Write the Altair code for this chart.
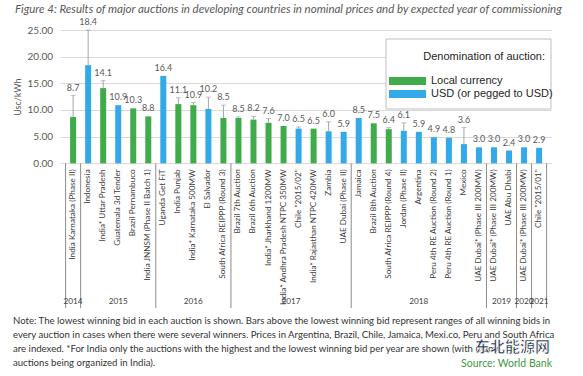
import altair as alt
import pandas as pd
import numpy as np

# ---------------- data ----------------
names = [
    "India Karnataka (Phase II)", "Indonesia", "India* Uttar Pradesh", "Guatemala 3d Tender",
    "Brazil Pernambuco", "India JNNSM (Phase II Batch 1)", "Uganda Get FiT", "India Punjab",
    "India* Karnataka 500MW", "El Salvador", "South Africa REIPPP (Round 3)", "Brazil 7th Auction",
    "Brazil 6th Auction", "India* Jharkhand 1200MW", "India* Andhra Pradesh NTPC 350MW",
    "Chile \"2015/02\"", "India* Rajasthan NTPC 420MW", "Zambia", "UAE Dubai (Phase II)",
    "Jamaica", "Brazil 8th Auction", "South Africa REIPPP (Round 4)", "Jordan (Phase II)",
    "Argentina", "Peru 4th RE Auction (Round 2)", "Peru 4th RE Auction (Round 1)", "Mexico",
    "UAE Dubai* (Phase III 200MW)", "UAE Dubai* (Phase III 200MW)", "UAE Abu Dhabi",
    "UAE Dubai* (Phase III 200MW)", "Chile \"2015/01\"",
]
values = [8.7, 18.4, 14.1, 10.9, 10.3, 8.8, 16.4, 11.1, 10.9, 10.2, 8.5, 8.5, 8.2, 7.6, 7.0,
          6.5, 6.5, 6.0, 5.9, 8.5, 7.5, 6.4, 6.1, 5.9, 4.9, 4.8, 3.6, 3.0, 3.0, 2.4, 3.0, 2.9]
range_tops = [12.7, 25.0, 15.5, None, None, None, None, 12.3, 11.4, 12.4, 10.9, 8.7, 8.8, 8.4,
              None, 6.8, None, 7.8, None, None, None, 6.7, 7.6, None, None, None, 6.7,
              None, None, None, None, None]
currency = ["Local", "USD", "Local", "USD", "Local", "Local", "USD", "Local", "Local", "USD",
            "Local", "Local", "Local", "Local", "Local", "USD", "Local", "USD", "USD", "USD",
            "Local", "Local", "USD", "USD", "USD", "USD", "USD", "USD", "USD", "USD", "USD", "USD"]
years = ["2014", "2015", "2016", "2017", "2018", "2019", "2020", "2021"]
year_counts = [1, 5, 5, 8, 9, 2, 1, 1]
y_ticks = [0, 5, 10, 15, 20, 25]

cur_domain = ["Local", "USD"]
cur_labels = ["Local currency", "USD (or pegged to USD)"]
cur_colors = ["#3fab4a", "#33a9e8"]

title_text = ("Figure 4: Results of major auctions in developing countries in nominal prices "
              "and by expected year of commissioning")
note_lines = [
    "Note: The lowest winning bid in each auction is shown. Bars above the lowest winning bid represent ranges of all winning bids in",
    "every auction in cases when there were several winners. Prices in Argentina, Brazil, Chile, Jamaica, Mexi.co, Peru and South Africa",
    "are indexed. *For India only the auctions with the highest and the lowest winning bid per year are shown (with many",
    "auctions being organized in India).",
]

# ---------------- tables ----------------
n = len(names)
df = pd.DataFrame({"name": names, "value": values, "top": range_tops, "cur": currency})
df["top"] = df["top"].astype(float)
df["xc"] = np.arange(n) + 0.5
df["lab_y"] = np.fmax(df["value"], df["top"].fillna(0))

starts = np.concatenate([[0], np.cumsum(year_counts)[:-1]])
ydf = pd.DataFrame({"year": years, "xc": starts + np.array(year_counts) / 2})
bdf = pd.DataFrame({"xc": np.concatenate([[0], np.cumsum(year_counts)]).astype(float)})
errdf = df.dropna(subset=["top"])

# ---------------- layout ----------------
OX, OY = 60.6, 30.0
W, H = 491, 133.3
FONT = "Lato"

xs = alt.X("xc:Q", scale=alt.Scale(domain=[0, n], nice=False, zero=False), axis=None)
yscale = alt.Scale(domain=[0, 25], nice=False)
yaxis = alt.Axis(values=y_ticks, format=".2f", title="Usc/kWh", labelOverlap=False,
                 grid=True, gridColor="#d9d9d9", domain=False, ticks=False,
                 labelPadding=8, labelFontSize=10, labelColor="#595959", labelFont=FONT,
                 titleFontSize=9, titleFontWeight="normal", titleColor="#595959",
                 titleFont=FONT, titlePadding=5)


def Y(field):
    return alt.Y(field, scale=yscale, axis=yaxis)


color = alt.Color("cur:N", scale=alt.Scale(domain=cur_domain, range=cur_colors), legend=None)

base = alt.Chart(df)

bars = base.mark_bar(size=6).encode(x=xs, y=Y("value:Q"), color=color)

err = alt.Chart(errdf).mark_rule(color="#a6a6a6", strokeWidth=1).encode(
    x=xs, y=Y("value:Q"), y2="top:Q")
caps = alt.Chart(errdf).mark_tick(orient="horizontal", size=5, thickness=1, color="#a6a6a6").encode(
    x=xs, y=Y("top:Q"))

vlabels = base.mark_text(baseline="bottom", dy=-3, fontSize=9, color="#595959", font=FONT).encode(
    x=xs, y=Y("lab_y:Q"), text=alt.Text("value:Q", format=".1f"))

cat_labels = base.mark_text(angle=270, align="right", baseline="middle", fontSize=8.2,
                            color="#404040", font=FONT).encode(
    x=xs, y=alt.value(H + 6), text="name:N")

year_labels = alt.Chart(ydf).mark_text(fontSize=8.2, color="#404040", font=FONT,
                                        baseline="middle").encode(
    x=xs, y=alt.value(302 - OY), text="year:N")

seps = alt.Chart(bdf).mark_rule(color="#8c8c8c", strokeWidth=1).encode(
    x=xs, y=alt.value(H), y2=alt.value(308 - OY))

one = pd.DataFrame({"k": [0]})
title = alt.Chart(one).mark_text(align="left", baseline="middle", fontSize=11.5,
                                 fontStyle="italic", color="#595959", font=FONT).encode(
    x=alt.value(15 - OX), y=alt.value(10 - OY), text=alt.value(title_text))

note = alt.Chart(one).mark_text(align="left", baseline="middle", fontSize=9.6, lineHeight=14,
                                color="#333333", font=FONT).encode(
    x=alt.value(13 - OX), y=alt.value(321 - OY), text=alt.value(note_lines))

# legend (manual box)
legbox = alt.Chart(one).mark_rect(fill="white", stroke="#bfbfbf", strokeWidth=1).encode(
    x=alt.value(386 - OX), x2=alt.value(551 - OX), y=alt.value(39 - OY), y2=alt.value(109 - OY))
legtitle = alt.Chart(one).mark_text(align="right", baseline="middle", fontSize=11,
                                    color="#262626", font="Liberation Sans").encode(
    x=alt.value(545 - OX), y=alt.value(57 - OY), text=alt.value("Denomination of auction:"))
leg_layers = []
for i, (c, lab) in enumerate(zip(cur_domain, cur_labels)):
    ld = pd.DataFrame({"cur": [c], "lab": [lab]})
    cy = 81 + 13 * i - OY
    leg_layers.append(alt.Chart(ld).mark_rect().encode(
        x=alt.value(389 - OX), x2=alt.value(426 - OX), y=alt.value(cy - 4), y2=alt.value(cy + 4),
        color=color))
    leg_layers.append(alt.Chart(ld).mark_text(align="left", baseline="middle", fontSize=11,
                                              color="#262626", font="Liberation Sans").encode(
        x=alt.value(431 - OX), y=alt.value(cy), text="lab:N"))

wm = alt.Chart(one).mark_text(align="right", baseline="middle", fontSize=15, fontWeight="bold",
                              color="#1d2b45", font="Noto Sans CJK SC", stroke="white",
                              strokeWidth=0.6).encode(
    x=alt.value(550 - OX), y=alt.value(347 - OY), text=alt.value("东北能源网"))
src = alt.Chart(one).mark_text(align="right", baseline="middle", fontSize=10.5,
                               color="#3c9a3c", font=FONT).encode(
    x=alt.value(552 - OX), y=alt.value(364 - OY), text=alt.value("Source: World Bank"))

chart = alt.layer(
    seps, bars, err, caps, vlabels, cat_labels, year_labels, title, note,
    legbox, legtitle, *leg_layers, wm, src
).properties(
    width=W, height=H,
    autosize=alt.AutoSizeParams(type="none"),
    padding={"left": OX, "top": OY, "right": 583 - OX - W, "bottom": 376 - OY - H},
    background="white",
).configure_view(stroke=None)

chart.save("out.html", embed_options={"renderer": "svg", "actions": False})
